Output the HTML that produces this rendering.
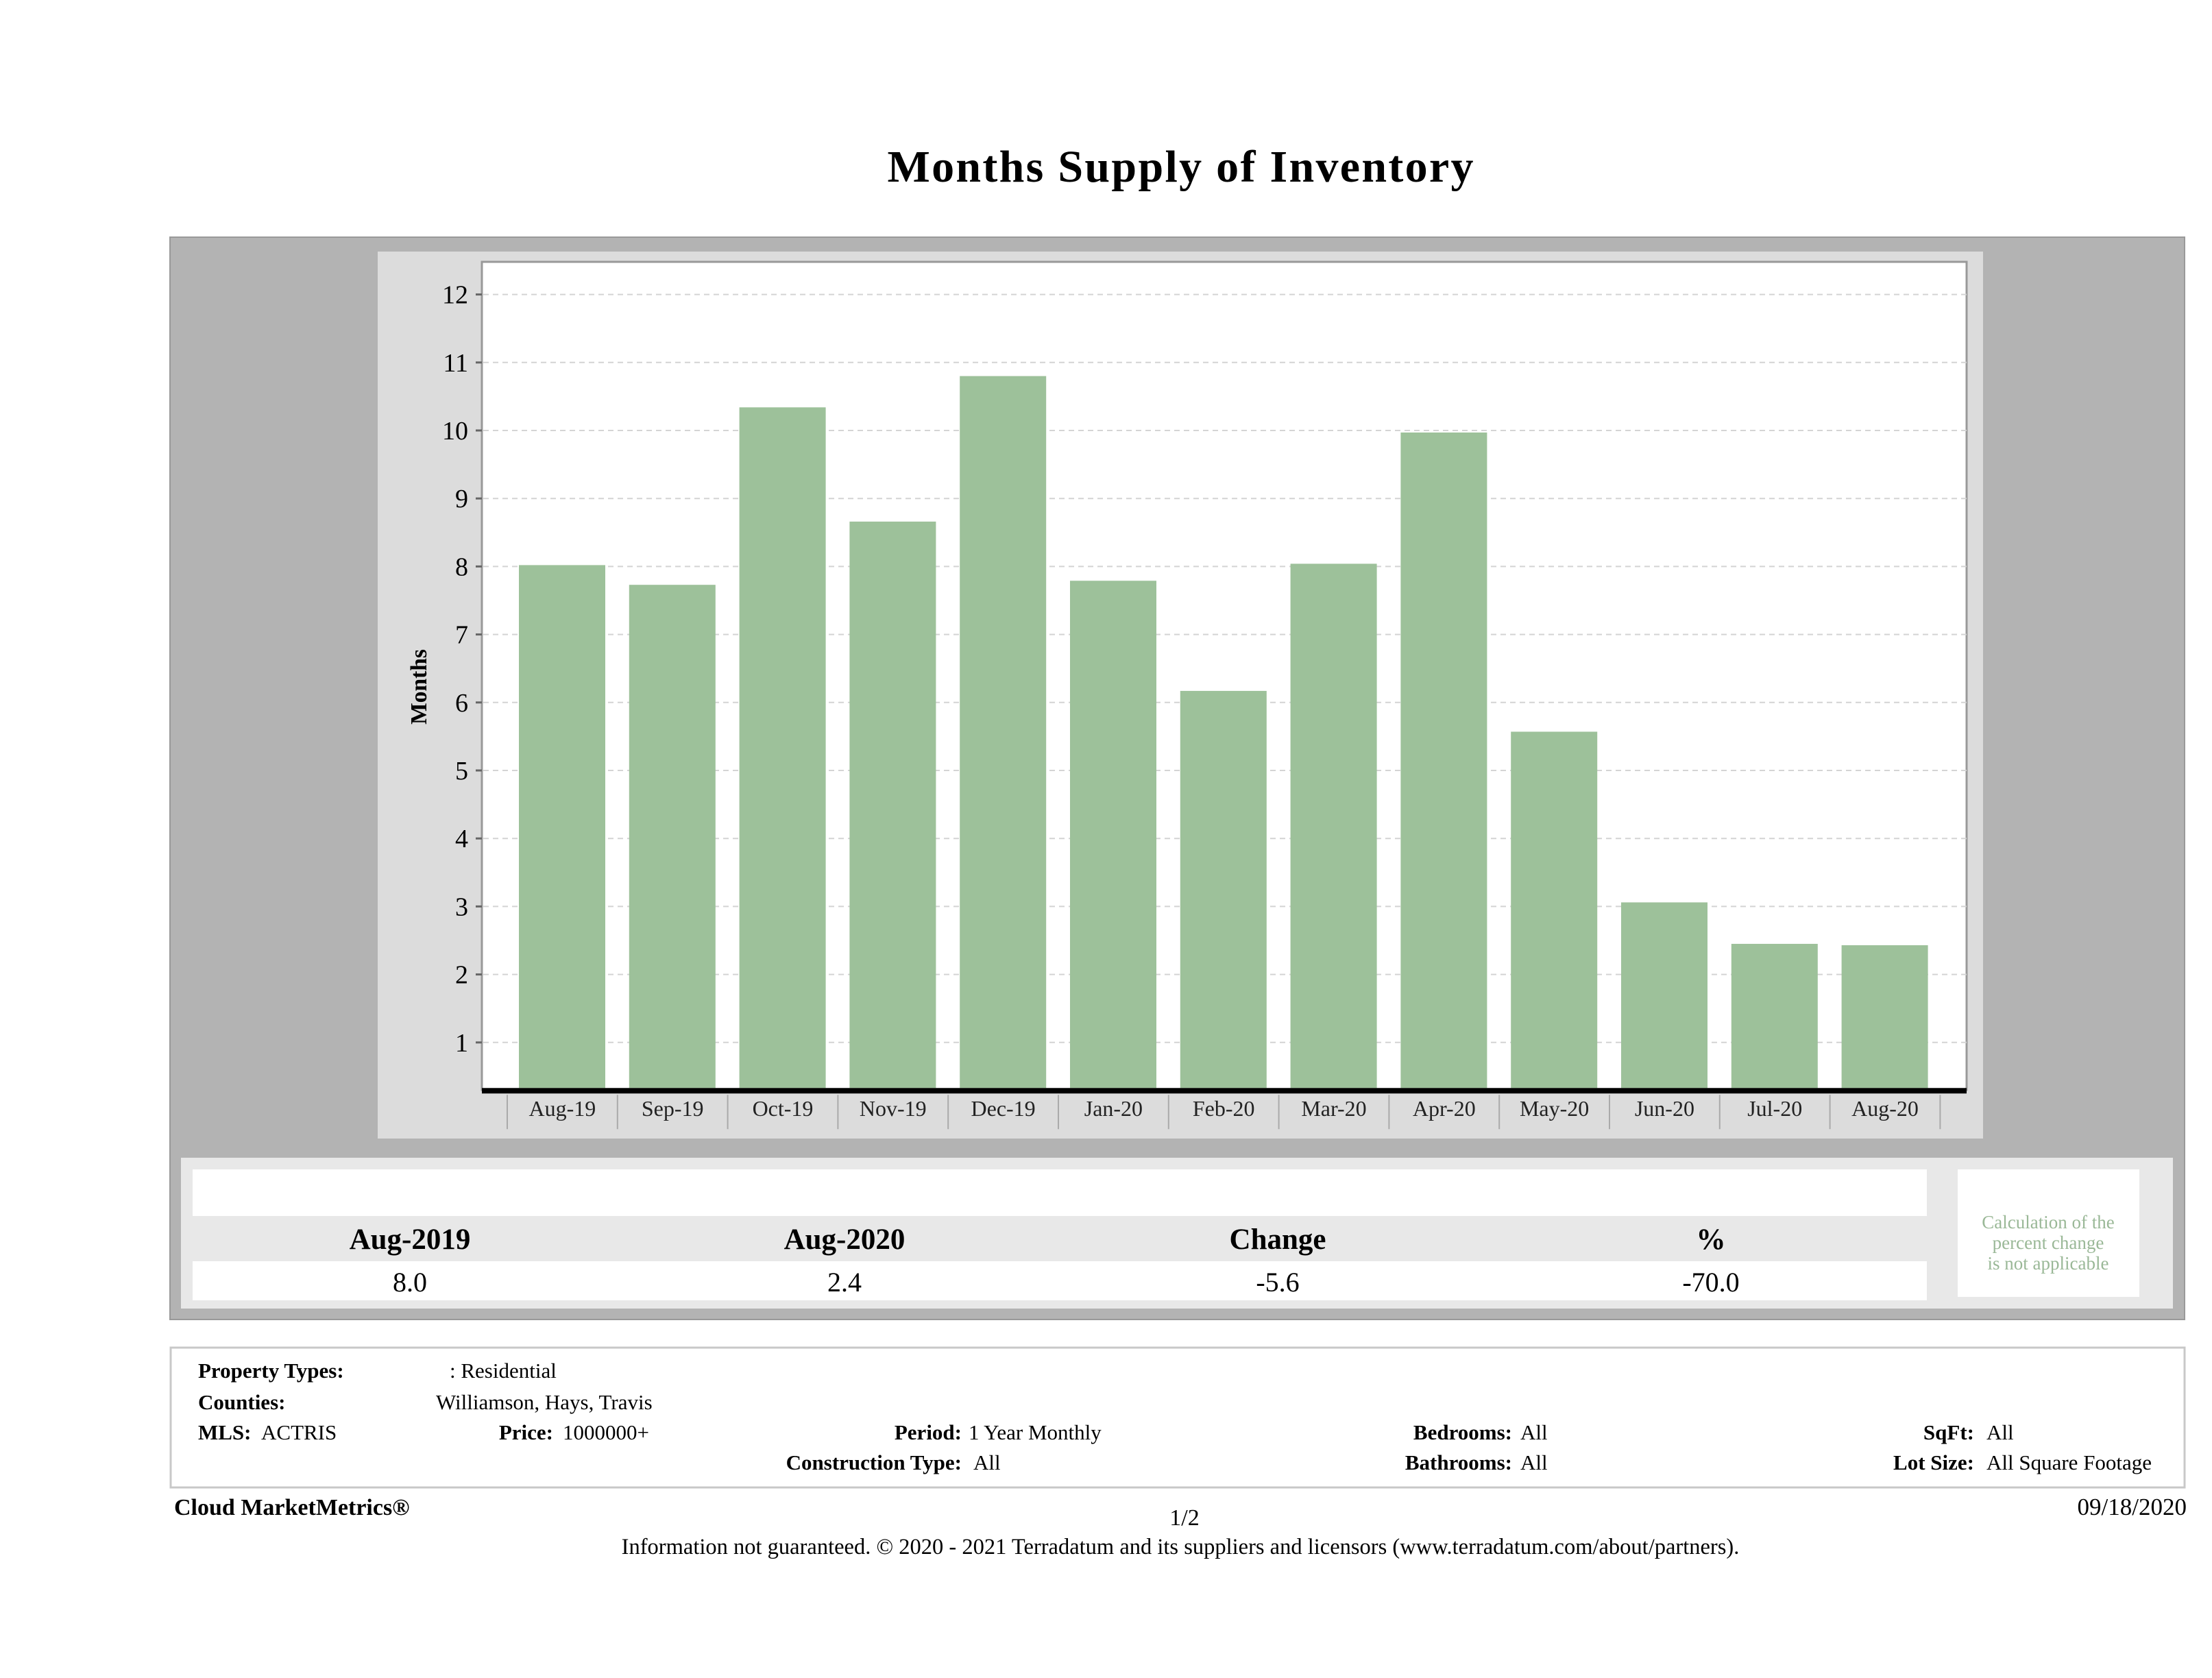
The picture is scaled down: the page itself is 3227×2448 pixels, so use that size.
<!DOCTYPE html>
<html><head><meta charset="utf-8"><style>
html,body{margin:0;padding:0;background:#fff;}
svg{display:block;font-family:"Liberation Serif",serif;}
</style></head><body>
<svg id="page" width="3227" height="2448" viewBox="0 0 3227 2448" xmlns="http://www.w3.org/2000/svg">
<text x="1722" y="265" font-size="66" font-weight="bold" text-anchor="middle" textLength="855">Months Supply of Inventory</text>
<rect x="248" y="346" width="2939" height="1579" fill="#b3b3b3" stroke="#999" stroke-width="2"/>
<rect x="551" y="367" width="2342" height="1294" fill="#dcdcdc"/>
<rect x="703" y="382" width="2166" height="1208" fill="#fff" stroke="#999" stroke-width="3"/>
<g id="grid"></g>
<g id="bars"></g>
<g id="yaxis"></g>
<g id="xaxis"></g>
<text transform="translate(622,1002) rotate(-90)" font-size="34" font-weight="bold" text-anchor="middle" textLength="110" lengthAdjust="spacingAndGlyphs">Months</text>

<rect x="264" y="1689" width="2906" height="220" fill="#e8e8e8"/>
<rect x="281" y="1706" width="2530" height="68" fill="#fff"/>
<rect x="281" y="1840" width="2530" height="57" fill="#fff"/>
<g font-size="43" font-weight="bold" text-anchor="middle">
<text x="598" y="1822">Aug-2019</text>
<text x="1232" y="1822">Aug-2020</text>
<text x="1864" y="1822">Change</text>
<text x="2496" y="1822">%</text>
</g>
<g font-size="40" text-anchor="middle">
<text x="598" y="1884">8.0</text>
<text x="1232" y="1884">2.4</text>
<text x="1864" y="1884">-5.6</text>
<text x="2496" y="1884">-70.0</text>
</g>
<rect x="2856" y="1706" width="265" height="186" fill="#fff"/>
<g font-size="27" fill="#9ab897" text-anchor="middle">
<text x="2988" y="1792">Calculation of the</text>
<text x="2988" y="1822">percent change</text>
<text x="2988" y="1852">is not applicable</text>
</g>

<rect x="249" y="1966" width="2938" height="204" fill="#fff" stroke="#c8c8c8" stroke-width="3"/>
<g font-size="31">
<text x="289" y="2010" font-weight="bold">Property Types:</text>
<text x="656" y="2010">: Residential</text>
<text x="289" y="2056" font-weight="bold">Counties:</text>
<text x="636" y="2056">Williamson, Hays, Travis</text>
<text x="289" y="2100" font-weight="bold">MLS:</text>
<text x="381" y="2100">ACTRIS</text>
<text x="807" y="2100" font-weight="bold" text-anchor="end">Price:</text>
<text x="821" y="2100">1000000+</text>
<text x="1403" y="2100" font-weight="bold" text-anchor="end">Period:</text>
<text x="1413" y="2100">1 Year Monthly</text>
<text x="1403" y="2144" font-weight="bold" text-anchor="end">Construction Type:</text>
<text x="1420" y="2144">All</text>
<text x="2206" y="2100" font-weight="bold" text-anchor="end">Bedrooms:</text>
<text x="2218" y="2100">All</text>
<text x="2206" y="2144" font-weight="bold" text-anchor="end">Bathrooms:</text>
<text x="2218" y="2144">All</text>
<text x="2880" y="2100" font-weight="bold" text-anchor="end">SqFt:</text>
<text x="2898" y="2100">All</text>
<text x="2880" y="2144" font-weight="bold" text-anchor="end">Lot Size:</text>
<text x="2898" y="2144">All Square Footage</text>
</g>
<text x="254" y="2210" font-size="34" font-weight="bold">Cloud MarketMetrics®</text>
<text x="1728" y="2225" font-size="34" text-anchor="middle">1/2</text>
<text x="3190" y="2210" font-size="35" text-anchor="end">09/18/2020</text>
<text x="1722" y="2267" font-size="32.5" text-anchor="middle">Information not guaranteed. © 2020 - 2021 Terradatum and its suppliers and licensors (www.terradatum.com/about/partners).</text>
</svg>
<script>
const categories = ["Aug-19","Sep-19","Oct-19","Nov-19","Dec-19","Jan-20","Feb-20","Mar-20","Apr-20","May-20","Jun-20","Jul-20","Aug-20"];
const monthsSupply = [8.02,7.73,10.34,8.66,10.80,7.79,6.17,8.04,9.97,5.57,3.06,2.45,2.43];
const yTicks = [1,2,3,4,5,6,7,8,9,10,11,12];
const yTickLabels = ["1","2","3","4","5","6","7","8","9","10","11","12"];

const NS = "http://www.w3.org/2000/svg";
const plotL = 703, plotR = 2869, yMin = 0.33;
const y0 = 1620, unit = 99.2;
function yScale(v){ return y0 - v*unit; }
const bandStart = 740, band = 160.8, barW = 126, barOff = 17;
function xBand(i){ return bandStart + i*band; }
const baseY = yScale(yMin);

function mk(tag, attrs, parent){ const e=document.createElementNS(NS,tag); for(const k in attrs) e.setAttribute(k,attrs[k]); parent.appendChild(e); return e; }

const grid=document.getElementById('grid'), bars=document.getElementById('bars'), yax=document.getElementById('yaxis'), xax=document.getElementById('xaxis');
yTicks.forEach((t,i)=>{
  const y=yScale(t);
  const g=mk('line',{x1:plotL+2,x2:plotR,y1:y,y2:y,stroke:'#d4d4d4','stroke-width':2,'stroke-dasharray':'8,6'},grid);
  
  
  const tk=mk('line',{x1:plotL-9,x2:plotL,y1:y,y2:y,stroke:'#666','stroke-width':3},yax);
  
  
  const tx=mk('text',{x:683,y:y+13,'font-size':38,'text-anchor':'end'},yax);
  tx.textContent=yTickLabels[i];
  
  
});
monthsSupply.forEach((v,i)=>{
  const top=yScale(v);
  const r=mk('rect',{x:xBand(i)+barOff,y:top,width:barW,height:baseY-top,fill:'#9dc19a'},bars);
  
  
});
const bl=mk('rect',{x:plotL,y:baseY,width:plotR-plotL,height:8,fill:'#000'},xax);


for(let i=0;i<=categories.length;i++){
  const d=mk('line',{x1:xBand(i),x2:xBand(i),y1:baseY+10,y2:baseY+60,stroke:'#aaa','stroke-width':2},xax);
  
  
}
categories.forEach((c,i)=>{
  const t=mk('text',{x:xBand(i)+band/2,y:1628,'font-size':32,'text-anchor':'middle',fill:'#222'},xax);
  t.textContent=c;
  
  
});
</script>
</body></html>
